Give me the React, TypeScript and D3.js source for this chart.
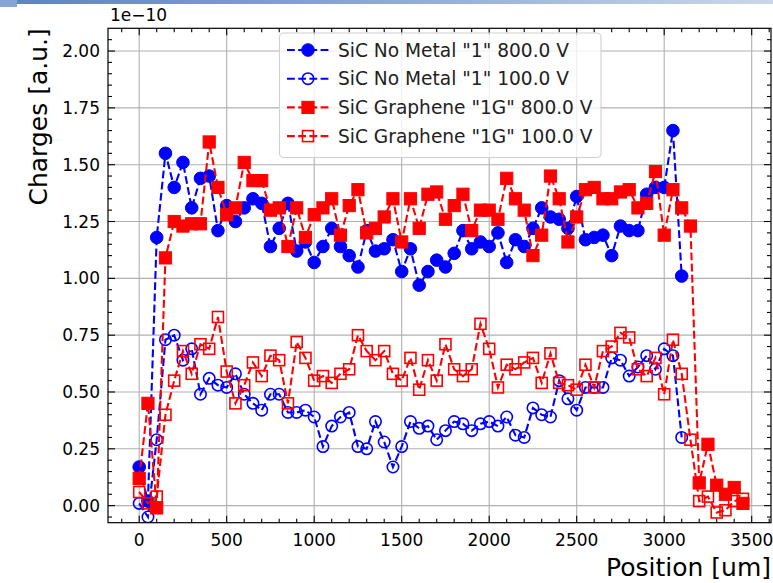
import React from "react";
import * as d3 from "d3";

const positions = [0,50,100,150,200,250,300,350,400,450,500,550,600,650,700,750,800,850,900,950,1000,1050,1100,1150,1200,1250,1300,1350,1400,1450,1500,1550,1600,1650,1700,1750,1800,1850,1900,1950,2000,2050,2100,2150,2200,2250,2300,2350,2400,2450,2500,2550,2600,2650,2700,2750,2800,2850,2900,2950,3000,3050,3100,3150,3200,3250,3300,3350,3400,3450];

const noMetal800 = [0.17,0.02,1.18,1.55,1.40,1.51,1.31,1.44,1.45,1.21,1.32,1.25,1.31,1.35,1.33,1.14,1.22,1.33,1.12,1.16,1.07,1.14,1.22,1.14,1.10,1.05,1.21,1.12,1.13,1.17,1.03,1.13,0.97,1.03,1.08,1.05,1.11,1.21,1.13,1.16,1.14,1.20,1.07,1.17,1.14,1.22,1.31,1.27,1.26,1.22,1.36,1.17,1.18,1.19,1.10,1.23,1.21,1.21,1.37,1.40,1.40,1.65,1.01];

const noMetal100 = [0.01,-0.05,0.29,0.73,0.75,0.64,0.69,0.49,0.56,0.53,0.52,0.58,0.49,0.45,0.42,0.49,0.49,0.41,0.41,0.42,0.39,0.26,0.35,0.39,0.41,0.26,0.25,0.37,0.28,0.17,0.26,0.37,0.34,0.35,0.29,0.33,0.37,0.36,0.33,0.36,0.37,0.35,0.39,0.31,0.30,0.43,0.40,0.39,0.55,0.47,0.42,0.52,0.52,0.52,0.65,0.64,0.57,0.61,0.66,0.60,0.69,0.66,0.30];

const graphene800 = [0.12,0.45,-0.01,1.09,1.25,1.23,1.24,1.24,1.60,1.40,1.28,1.31,1.51,1.43,1.43,1.30,1.31,1.14,1.31,1.18,1.28,1.31,1.35,1.19,1.32,1.39,1.20,1.22,1.27,1.35,1.16,1.35,1.22,1.37,1.38,1.26,1.32,1.37,1.21,1.30,1.30,1.26,1.44,1.35,1.30,1.10,1.19,1.45,1.35,1.16,1.27,1.39,1.40,1.35,1.35,1.38,1.39,1.31,1.33,1.47,1.19,1.39,1.31,1.23,0.10,0.27,0.09,0.05,0.08,0.01];

const graphene100 = [0.06,0.01,0.04,0.40,0.55,0.68,0.58,0.71,0.69,0.83,0.59,0.45,0.53,0.63,0.57,0.66,0.64,0.45,0.72,0.65,0.55,0.57,0.54,0.58,0.60,0.75,0.68,0.64,0.68,0.58,0.55,0.65,0.51,0.64,0.55,0.71,0.60,0.57,0.60,0.80,0.69,0.52,0.62,0.60,0.63,0.65,0.54,0.67,0.54,0.53,0.51,0.62,0.52,0.68,0.70,0.76,0.74,0.60,0.57,0.65,0.49,0.73,0.58,0.29,0.02,0.04,-0.03,-0.02,0.02,0.03];

const seriesLabels = [
  'SiC No Metal "1" 800.0 V',
  'SiC No Metal "1" 100.0 V',
  'SiC Graphene "1G" 800.0 V',
  'SiC Graphene "1G" 100.0 V',
];
const seriesColors = ["#0000ff", "#0000ff", "#ff0000", "#ff0000"];
const seriesMarkers = ["circle", "circle", "square", "square"];
const seriesFilled = [true, false, true, false];
const seriesValues = [noMetal800, noMetal100, graphene800, graphene100];

const xTicks = [0, 500, 1000, 1500, 2000, 2500, 3000, 3500];
const yTicks = [0, 0.25, 0.5, 0.75, 1.0, 1.25, 1.5, 1.75, 2.0];

const FONT = "DejaVu Sans, sans-serif";

const L = 108, R = 771, T = 28.3, B = 522.7;

export default function App() {
  const x = d3.scaleLinear().domain([-178.3, 3610.3]).range([L, R]);
  const y = d3.scaleLinear().domain([-0.075, 2.1]).range([B, T]);

  const xMinor = d3.range(-100, 3601, 100).filter((v) => v % 500 !== 0 && x(v) > L && x(v) < R);
  const yMinor = d3.range(-0.05, 2.1, 0.05).filter((v) => Math.abs((v * 4) - Math.round(v * 4)) > 1e-6 && y(v) < B && y(v) > T);

  const line = d3
    .line<[number, number]>()
    .x((d) => x(d[0]))
    .y((d) => y(d[1]));

  const marker = (kind: string, filled: boolean, color: string, cx: number, cy: number, key: any) => {
    if (kind === "circle") {
      return filled ? (
        <circle key={key} cx={cx} cy={cy} r={6.3} fill={color} stroke={color} strokeWidth={1} />
      ) : (
        <circle key={key} cx={cx} cy={cy} r={5.7} fill="none" stroke={color} strokeWidth={1.6} />
      );
    }
    return filled ? (
      <rect key={key} x={cx - 6.1} y={cy - 6.1} width={12.2} height={12.2} fill={color} stroke={color} strokeWidth={1} />
    ) : (
      <rect key={key} x={cx - 5.5} y={cy - 5.5} width={11} height={11} fill="none" stroke={color} strokeWidth={1.6} />
    );
  };

  const legendX = 279.5, legendY = 33, legendW = 321.5, legendH = 124.5;
  const rowY = [50, 78.7, 107.4, 136.1];

  return (
    <div style={{ position: "absolute", left: 0, top: 0, width: 773, height: 583, background: "#fff" }}>
      <svg width={773} height={583} style={{ display: "block" }} fontFamily={FONT}>
        <defs>
          <linearGradient id="topbar" x1="0" x2="1" y1="0" y2="0">
            <stop offset="0" stopColor="#5f84c2" />
            <stop offset="0.5" stopColor="#8eaad6" />
            <stop offset="1" stopColor="#cad7ea" />
          </linearGradient>
          <clipPath id="plotclip">
            <rect x={L} y={T} width={R - L} height={B - T} />
          </clipPath>
        </defs>
        <rect x={0} y={0} width={773} height={583} fill="#ffffff" />
        <rect x={17} y={0} width={756} height={4} fill="url(#topbar)" />
        <rect x={0} y={0} width={17} height={7} fill="#86a4d6" />

        {/* grid */}
        <g stroke="#b0b0b0" strokeWidth={1.1}>
          {xTicks.map((t) => (
            <line key={"gx" + t} x1={x(t)} x2={x(t)} y1={T} y2={B} />
          ))}
          {yTicks.map((t) => (
            <line key={"gy" + t} x1={L} x2={R} y1={y(t)} y2={y(t)} />
          ))}
        </g>

        {/* data */}
        <g clipPath="url(#plotclip)">
          {seriesValues.map((vals, si) => {
            const pts: [number, number][] = vals.map((v, i) => [positions[i], v]);
            return (
              <g key={"s" + si}>
                <path
                  d={line(pts) || ""}
                  fill="none"
                  stroke={seriesColors[si]}
                  strokeWidth={2.1}
                  strokeDasharray="7.8,3.4"
                />
                {pts.map((p, i) =>
                  marker(seriesMarkers[si], seriesFilled[si], seriesColors[si], x(p[0]), y(p[1]), si + "-" + i)
                )}
              </g>
            );
          })}
        </g>

        {/* ticks */}
        <g stroke="#000" strokeWidth={1.1}>
          {xTicks.map((t) => (
            <g key={"xt" + t}>
              <line x1={x(t)} x2={x(t)} y1={B} y2={B - 7} />
              <line x1={x(t)} x2={x(t)} y1={T} y2={T + 7} />
            </g>
          ))}
          {xMinor.map((t) => (
            <g key={"xm" + t}>
              <line x1={x(t)} x2={x(t)} y1={B} y2={B - 4} />
              <line x1={x(t)} x2={x(t)} y1={T} y2={T + 4} />
            </g>
          ))}
          {yTicks.map((t) => (
            <g key={"yt" + t}>
              <line x1={L} x2={L + 7} y1={y(t)} y2={y(t)} />
              <line x1={R} x2={R - 7} y1={y(t)} y2={y(t)} />
            </g>
          ))}
          {yMinor.map((t) => (
            <g key={"ym" + t}>
              <line x1={L} x2={L + 4} y1={y(t)} y2={y(t)} />
              <line x1={R} x2={R - 4} y1={y(t)} y2={y(t)} />
            </g>
          ))}
        </g>

        {/* spines */}
        <rect x={L} y={T} width={R - L} height={B - T} fill="none" stroke="#000" strokeWidth={1.2} />

        {/* tick labels */}
        <g fontSize={17} fill="#000">
          {xTicks.map((t) => (
            <text key={"xl" + t} x={x(t)} y={546} textAnchor="middle">
              {t}
            </text>
          ))}
          {yTicks.map((t) => (
            <text key={"yl" + t} x={100} y={y(t) + 6} textAnchor="end">
              {d3.format(".2f")(t)}
            </text>
          ))}
          <text x={110} y={21}>1e−10</text>
        </g>

        {/* axis labels */}
        <text x={R} y={576} fontSize={25} textAnchor="end" fill="#000">
          Position [um]
        </text>
        <text transform={`translate(47, ${T}) rotate(-90)`} fontSize={25} textAnchor="end" fill="#000">
          Charges [a.u.]
        </text>

        {/* legend */}
        <rect
          x={legendX}
          y={legendY}
          width={legendW}
          height={legendH}
          rx={4}
          fill="#ffffff"
          fillOpacity={0.8}
          stroke="#d0d0d0"
          strokeWidth={1.1}
        />
        {seriesLabels.map((lab, i) => (
          <g key={"lg" + i}>
            <line
              x1={287}
              x2={329}
              y1={rowY[i]}
              y2={rowY[i]}
              stroke={seriesColors[i]}
              strokeWidth={2.1}
              strokeDasharray="7.8,3.4"
            />
            {marker(seriesMarkers[i], seriesFilled[i], seriesColors[i], 308, rowY[i], "lm" + i)}
            <text x={338} y={rowY[i] + 6.5} fontSize={18.6} fill="#222">
              {lab}
            </text>
          </g>
        ))}
      </svg>
    </div>
  );
}
